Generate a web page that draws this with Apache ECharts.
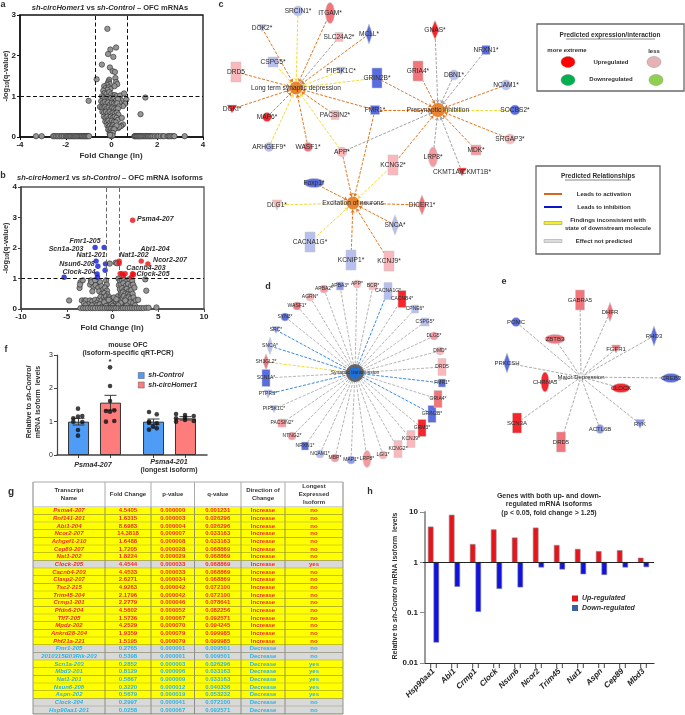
<!DOCTYPE html>
<html><head><meta charset="utf-8">
<style>html,body{margin:0;padding:0;background:#fff}#c{width:685px;height:715px}</style>
<script src="https://cdn.jsdelivr.net/npm/echarts@6/dist/echarts.min.js"></script>
</head><body><div id="c"></div>
<script>
/* ---------- panel a : volcano, mRNAs ---------- */
const aPoints=[[-.18,2.66],[.2,2.2],[-.05,2.15],[-.15,2.04],[.08,1.97],[-.42,1.78],[-.07,1.71],[.05,1.62],[.15,1.6],[.17,1.45],[-.65,1.42],[.2,1.35],[.25,1.3],[.13,1.25],
[-.1,1.41],[-.13,1.36],[-.16,1.32],[-.08,1.3],[-.2,1.28],[-.32,1.25],[-.26,1.2],[-.12,1.22],[-.05,1.18],[-.18,1.16],[-.36,1.14],[-.3,1.08],[-.22,1.06],[-.1,1.1],[-.02,1.05],[.08,1.02],[.15,1.03],[.22,1.0],[.38,1.02],[.55,1.07],[.65,.92],[.6,.82],[.5,.76],[.42,.9],[.35,.85],
[-.42,1.0],[-.35,.97],[-.27,.95],[-.18,.98],[-.1,.93],[-.03,.95],[.05,.92],[.13,.95],[.2,.9],[.28,.93],
[-.45,.88],[-.38,.84],[-.3,.86],[-.22,.82],[-.14,.85],[-.06,.8],[.02,.84],[.1,.82],[.18,.8],[.25,.83],[.32,.75],
[-.5,.74],[-.42,.72],[-.35,.7],[-.27,.74],[-.2,.7],[-.12,.72],[-.04,.68],[.04,.72],[.12,.7],[.2,.68],[.28,.7],
[-.4,.62],[-.32,.6],[-.24,.62],[-.16,.58],[-.08,.62],[0,.58],[.08,.6],[.16,.58],[.24,.6],[.3,.55],
[-.33,.5],[-.26,.47],[-.18,.5],[-.1,.46],[-.02,.5],[.06,.47],[.14,.5],[.22,.47],[.28,.42],[.45,.47],
[-.27,.38],[-.2,.36],[-.13,.4],[-.06,.35],[.02,.4],[.1,.37],[.18,.36],[.5,.31],[.42,.27],[.3,.22],[.34,.25],
[-.18,.28],[-.12,.25],[-.06,.28],[.02,.26],[.08,.29],[.15,.25],[.22,.28],
[-.14,.18],[-.08,.15],[-.02,.2],[.05,.17],[.12,.19],
[-.08,.08],[-.03,.1],[.02,.07],[.06,.1],[-.04,.03],[.01,.02],[.04,.04],[-.06,.05],
[1.48,.97],[1.27,.56],[-1,.89]];
const aZeroRowX=[-3.3,-3.05,-2.55,-2.5,-2.42,-2.35,-2.28,-2.2,-2.15,-2.08,-2,-1.95,-1.9,-1.85,-1.8,-1.76,-1.7,-1.65,-1.6,-1.56,-1.5,-1.45,-1.4,-1.35,-1.3,-1.27,-1.22,-1.18,-1.14,-1.1,-1.06,-1.02,-.98,
1,1.03,1.06,1.1,1.14,1.18,1.22,1.26,1.3,1.35,1.4,1.45,1.5,1.55,1.6,1.65,1.7,1.75,1.82,1.9,2,2.05,2.15,2.25,2.3,2.45,2.5,2.55,2.62,2.7,2.75,3.2];
const aZeroRowY=.02;

/* ---------- panel b : volcano, isoforms ---------- */
const bRed=[[2.2,2.91],[.73,1.57],[.73,1.49],[3.14,1.57],[3.87,1.48],[.84,1.16],[1.02,1.16],[1.39,1.16],[1.2,1.1],[2.1,1.05],[2.19,1.16],[2.3,1.13]];
const bBlue=[[-1.9,2.02],[-.91,2.02],[-1.79,1.57],[-1.6,1.4],[-.77,1.48],[-.8,1.27],[-1.68,1.15],[-1.64,1.04],[-5.29,1.04]];
const bGray=[[-.3,1.49],[.35,1.52],[.5,1.5],[-.7,.94],[-.62,.8],[-3.5,.88],[-3.25,.94],[-3.6,.69],[-3.55,.8],[-2.37,.94],[-2.45,.8],[-2.08,.72],[-2.2,.58],[-1.7,.83],[-1.35,.88],[-2.3,.88],[-1.9,.94],[-1.85,.78],[-1.55,.7],[-1.2,.75],[-1.45,.58],[-1,.65],[-.8,.7],[-.6,.6],[-1.15,.5],[-.9,.52],[-.55,.48],
[-4.74,.28],[-3.35,.28],[-3.05,.28],[-2.9,.28],[-2.45,.28],[-2.2,.25],[-3.1,.18],[-2.65,.15],[-2.95,.12],[-1.9,.3],[-1.65,.22],[-2,.15],[-1.45,.33],[-1.7,.12],[-2.25,.12],[-1.3,.4],[-1.2,.28],[-1.05,.18],[-1.4,.15],[-.95,.38],[-.8,.3],[-.7,.42],
[-.65,.2],[-.55,.32],[-.45,.12],[-.4,.25],[-.3,.38],[-.25,.15],[-.15,.22],[-.1,.08],[0,.18],[.05,.3],[.1,.1],[.2,.22],[.3,.05],[.35,.35],[.4,.15],[.5,.25],[.55,.08],[.6,.42],[.7,.18],[.8,.3],[.85,.1],[.95,.45],[1.05,.22],[1.1,.35],[1.2,.12],[-.85,.1],[-.6,.06],[-.35,.05],[-.2,.32],[-.05,.26],[.15,.38],[.25,.13],[.45,.05],[.65,.27],[.75,.08],[1,.08],[-1.15,.08],[-.75,.16],[-.5,.2],[-.25,.26],[.1,.2],[.3,.17],[.55,.16],[.9,.2],[-.9,.22],[-.55,.12],[-.12,.15],[.18,.07],[.42,.32],[.62,.12],[-.42,.3],[-.7,.1],[.02,.1],
[.65,1],[.8,.92],[1,.95],[1.25,.98],[1.5,.9],[1.85,.98],[2.15,.92],[.7,.78],[.95,.8],[1.2,.84],[1.45,.76],[1.7,.82],[2,.75],[2.25,.8],[.8,.65],[1.05,.68],[1.3,.62],[1.55,.66],[1.8,.58],[2.05,.62],[2.4,.7],[.9,.52],[1.15,.55],[1.4,.5],[1.65,.48],[1.9,.46],[2.2,.5],[1.25,.42],[1.5,.36],[1.75,.38],[2,.34],[2.3,.38],[1.45,.24],[1.7,.2],[1.95,.22],[2.25,.2],[2.55,.28],[2.8,.3],[2.45,.12],[1.55,.12],[3.58,.97],[3.69,.6],[1.4,.28],
[-3.5,.03],[-3.2,.03],[-2.95,.03],[-2.7,.03],[-2.4,.03],[-2.15,.03],[-1.9,.03],[-1.6,.03],[-1.35,.03],[-1.1,.03],[-.85,.03],[-.6,.03],[-.4,.03],[-.2,.03],[0,.03],[.2,.03],[.4,.03],[.65,.03],[.9,.03],[1.15,.03],[1.4,.03],[1.65,.03],[1.9,.03],[2.15,.03],[2.4,.03],[2.65,.03],[2.9,.03],[3.15,.03],[3.4,.03],[3.7,.04],[3.95,.04],[4.8,.05]];
const bLabels=[['Psma4-207',137,219,'left'],['Fmr1-205',85,241,'center'],['Scn1a-203',66,249,'center'],['Abi1-204',155,249,'center'],['Nat1-201',91,255,'center'],['Nat1-202',134,255,'center'],['Ncor2-207',170,260,'center'],['Nsun6-208',77,264,'center'],['Cacnb4-203',146,268,'center'],['Clock-204',79,272,'center'],['Clock-205',153,274,'center']];

/* ---------- panel f : qRT-PCR ---------- */
const fCategories=['Psma4-207','Psma4-201'];
const fControlMeans=[1.0,1.0];
const fHomerMeans=[1.57,1.1];
const fControlSem=[.1,.08];
const fHomerSem=[.22,.05];
const fDots=[[.28,1.39],[.217,1.1],[.28,1.15],[.337,1.17],[.217,1.0],[.337,.99],[.28,.75],[.28,.58],
[.707,2.63],[.707,2.07],[.707,1.62],[.653,1.32],[.764,1.34],[.707,1.3],[.653,1.0],[.764,1.02],
[1.227,1.29],[1.33,1.22],[1.227,1.0],[1.33,.95],[1.227,.76],[1.33,.8],[1.28,.85],[1.227,.97],
[1.587,1.23],[1.587,1.0],[1.707,1.2],[1.823,1.17],[1.587,1.1],[1.707,1.05],[1.823,1.02],[1.707,1.12]];

/* ---------- panel g : table ---------- */
const gHeader=['Transcript\nName','Fold Change','p-value','q-value','Direction of\nChange','Longest\nExpressed\nIsoform'];
const gNames=['Psma4-207','Rnf141-201','Abi1-204','Ncor2-207','Arhgef1-210','Cep89-207','Nat1-202','Clock-205','Cacnb4-203','Clasp2-207','Tsc2-215','Trim45-204','Crmp1-201','Pfdn6-204','Tlf7-205','Mpdz-202','Ankrd28-204','Phf21a-221','Fmr1-205','2010315B03Rik-203','Scn1a-203','Mbd3-201','Nat1-201','Nsun6-208','Aspn-202','Clock-204','Hsp90aa1-201'];
const gFold=['4.5405','1.6315','8.6983','14.3818','1.6488','1.7205','1.8224','4.4544','4.4533','2.6271','4.9263','2.1796','2.2779','4.5602','1.5736','4.2529','1.9359','1.5195','0.2765','0.5398','0.2852','0.8129','0.5867','0.3220','0.5679','0.2997','0.0258'];
const gP=['0.000000','0.000003','0.000004','0.000007','0.000008','0.000028','0.000029','0.000033','0.000033','0.000034','0.000042','0.000042','0.000046','0.000052','0.000067','0.000070','0.000079','0.000079','0.000001','0.000001','0.000003','0.000006','0.000009','0.000012','0.000019','0.000041','0.000067'];
const gQ=['0.001231','0.026296','0.026296','0.033163','0.033163','0.068869','0.068869','0.068869','0.068869','0.068869','0.072100','0.072100','0.078641','0.082256','0.092571','0.094245','0.099985','0.099985','0.009501','0.009501','0.026296','0.033163','0.033163','0.040336','0.053232','0.072100','0.092571'];
const gIncreaseCount=18;
const gLongest=['no','no','no','no','no','no','no','yes','no','no','no','no','no','no','no','no','no','no','no','no','yes','yes','yes','yes','yes','no','no'];

/* ---------- panel h : log bars ---------- */
const hGenes=['Hsp90aa1','Abi1','Crmp1','Clock','Nsun6','Ncor2','Trim45','Nat1','Aspn','Cep89','Mbd3'];
const hUp=[5.06,8.6983,2.2779,4.4544,3.07,4.83,2.1796,1.8224,1.65,1.7205,1.22];
const hDown=[.0258,.33,.105,.2997,.322,.8,.73,.5867,.5679,.8,.8129];

/* ---------- networks c, d, e ---------- */
const TONE={lb:'#b7bfee',mb:'#8e9be8',b:'#5a6dde',lp:'#fbb8bc',mp:'#f79aa0',p:'#f2757c',r:'#f5262c',hub:'#ea8430'};
const cHubs=['Long term synaptic depression','Presynaptic inhibition','Excitation of neurons'];
const cNames=['SRCIN1*','ITGAM*','DOK2*','SLC24A2*','MCLL*','GNAS*','NRXN1*','CSPG5*','DRD5','PIP5K1C*','GRIN2B*','GRIA4*','DBN1*','NCAM1*','DGKI*','MAP6*','PACSIN2*','FMR1*','SOCBS2*','SRGAP3*','ARHGEF9*','WASF1*','APP*','KCNG2*','LRP8*','MDK*','CKMT1A/CKMT1B*','Foxp1*','DLG1*','DICER1*','SNCA*','CACNA1G*','KCNIP1*','KCNJ9*'];
const cTones=['lb','p','lb','lp','b','r','b','lb','lp','lb','b','p','lb','lb','r','r','lp','b','b','lp','lb','p','lp','lp','mp','mp','r','b','lp','p','lb','lb','lb','lp'];
const cLinks={
 'Long term synaptic depression':{o:['ITGAM*','DOK2*','MCLL*','DRD5','DGKI*','MAP6*','PACSIN2*','FMR1*','WASF1*'],y:['SRCIN1*','CSPG5*','PIP5K1C*','GRIN2B*','ARHGEF9*','APP*'],g:['SLC24A2*']},
 'Presynaptic inhibition':{o:['GRIA4*','NCAM1*','GRIN2B*','FMR1*','SRGAP3*','KCNG2*','MDK*'],y:['SOCBS2*'],g:['GNAS*','NRXN1*','DBN1*','APP*','LRP8*','CKMT1A/CKMT1B*']},
 'Excitation of neurons':{o:['Foxp1*','APP*','FMR1*','DICER1*','SNCA*','KCNIP1*','KCNJ9*'],y:['KCNG2*','DLG1*','CACNA1G*'],g:[]}
};
const dHub='Synaptic transmission';
const dNames=['BCR*','APP*','APBA3*','APBA2*','AGRN*','WASF1*','SYN3*','SRC*','SNCA*','SH3GL2*','SCN1A*','PTPRS*','PIP5K1C*','PACSIN2*','NTNG2*','NRXN1*','NCAM1*','MBP*','MAP1*','LRP8*','LGI1*','KCNG2*','KCNJ9*','GRM3*','GRIN2B*','GRIA4*','FMR1*','DRD5','DMD*','DLG5*','CSPG5*','CPNE6*','CACNB4*','CACNA1G*'];
const dTones=['lp','lp','mb','mp','lp','p','b','mb','lb','p','b','lb','lb','mp','mp','b','lb','mp','mb','mp','lp','lp','lp','r','b','p','b','lp','lp','mp','lb','lb','r','lb'];
const dBlue=['CACNA1G*','SRC*','SNCA*','PTPRS*','FMR1*','GRIN2B*'];
const dYellow=['SH3GL2*'];
const eHub='Major Depression';
const eNames=['GABRA5','DHFR','RHO3','FGFR1','POMC','ZBTB3','PRKCSH','CHRNA5','CLOCK','CREB3','RYK','ACTL6B','DRD5','SCN3A'];
const eTones=['p','p','b','p','b','p','b','r','r','b','mb','mb','p','r'];

/* layout of the networks on the page, kept apart from the data: shape, cx, cy, w, h */
const cLayout={'Long term synaptic depression':['C',296,88,13,13],'Presynaptic inhibition':['C',438,110,14,14],'Excitation of neurons':['C',353,203,13,13],
'SRCIN1*':['C',298,11,10,10],'ITGAM*':['C',330,13,9,21],'DOK2*':['V',262,28,9,7],'SLC24A2*':['R',339,37,8,9],'MCLL*':['D',369,34,7,20],'GNAS*':['D',435,30,8,19],'NRXN1*':['R',486,50,8,9],'CSPG5*':['R',273,62,10,10],'DRD5':['R',236,72,10,20],'PIP5K1C*':['V',341,71,9,8],'GRIN2B*':['R',377,78,10,20],'GRIA4*':['R',418,71,10,20],'DBN1*':['C',454,75,10,10],'NCAM1*':['C',506,85,10,10],'DGKI*':['V',232,109,10,8],'MAP6*':['C',267,117,9,9],'PACSIN2*':['R',335,115,8,9],'FMR1*':['R',375,110,9,9],'SOCBS2*':['C',515,110,10,10],'SRGAP3*':['C',510,139,10,10],'ARHGEF9*':['C',269,147,9,9],'WASF1*':['C',308,147,9,9],'APP*':['C',342,152,10,10],'KCNG2*':['R',393,165,10,20],'LRP8*':['C',433,157,9,20],'MDK*':['R',476,150,10,10],'CKMT1A/CKMT1B*':['V',462,172,9,8],'Foxp1*':['C',314,183,20,9],'DLG1*':['V',277,205,10,10],'DICER1*':['D',422,205,8,20],'SNCA*':['D',395,225,8,20],'CACNA1G*':['R',310,242,10,20],'KCNIP1*':['R',351,260,10,20],'KCNJ9*':['R',389,261,10,20]};
const dLayout={'Synaptic transmission':['C',355,373,15,15],'BCR*':['R',373,286,8,7],'APP*':['C',357,284,8,8],'APBA3*':['R',340,286,7,8],'APBA2*':['C',324,289,8,8],'AGRN*':['C',310,297,8,8],'WASF1*':['C',297,306,8,8],'SYN3*':['C',285,317,8,8],'SRC*':['V',276,330,8,7],'SNCA*':['D',270,346,6,17],'SH3GL2*':['D',266,362,6,16],'SCN1A*':['R',266,378,8,17],'PTPRS*':['V',268,394,8,8],'PIP5K1C*':['V',274,409,8,7],'PACSIN2*':['R',282,423,8,8],'NTNG2*':['C',292,436,8,8],'NRXN1*':['R',305,446,7,8],'NCAM1*':['C',320,454,8,8],'MBP*':['C',335,458,8,8],'MAP1*':['C',351,460,8,8],'LRP8*':['C',367,459,8,17],'LGI1*':['C',383,455,8,8],'KCNG2*':['R',398,449,8,17],'KCNJ9*':['R',411,439,8,17],'GRM3*':['R',422,428,8,17],'GRIN2B*':['R',432,414,8,17],'GRIA4*':['R',438,399,8,17],'FMR1*':['R',442,383,7,8],'DRD5':['R',442,367,8,17],'DMD*':['C',440,351,8,8],'DLG5*':['C',434,336,8,8],'CSPG5*':['R',425,322,8,8],'CPNE6*':['R',415,309,7,8],'CACNB4*':['R',402,299,8,17],'CACNA1G*':['R',388,291,8,17]};
const eLayout={'Major Depression':['R',581,377,6,6],'GABRA5':['R',580,300,9,20],'DHFR':['D',610,312,7,19],'RHO3':['D',654,336,7,20],'FGFR1':['V',616,349,9,8],'POMC':['C',516,322,9,9],'ZBTB3':['C',555,339,20,9],'PRKCSH':['D',507,363,7,20],'CHRNA5':['C',545,382,8,20],'CLOCK':['C',621,388,18,9],'CREB3':['C',671,378,18,9],'RYK':['V',640,424,10,9],'ACTL6B':['C',600,429,8,9],'DRD5':['R',561,442,9,20],'SCN3A':['R',517,423,9,20]};

const FONT='"Liberation Sans",Arial,sans-serif';
const TRI='path://M0,0L10,0L5,10Z';
const SHAPE={C:'circle',R:'rect',D:'diamond',V:TRI};
const LINE={o:'#e4761f',y:'#f2d93c',g:'#a2a2a2',b:'#3a8ae6'};
function nodeItem(name,color,lay,fs){const l=lay[name];return{name:name,value:[l[1],l[2]],symbol:SHAPE[l[0]],symbolSize:[l[3],l[4]],
 itemStyle:{color:color,borderColor:'#c8c8c8',borderWidth:.5},
 label:{show:true,position:'inside',formatter:name,fontFamily:FONT,fontSize:fs,color:'#2a2a2a'}};}
function link(s,t,k,w){return{source:s,target:t,lineStyle:{color:LINE[k],type:[3,1.5],width:w||1,opacity:1,curveness:0}};}

const cData=cNames.map((n,i)=>nodeItem(n,TONE[cTones[i]],cLayout,6.6)).concat(cHubs.map(n=>{const it=nodeItem(n,TONE.hub,cLayout,6.6);it.itemStyle.borderWidth=0;return it;}));
const cEdges=[];Object.keys(cLinks).forEach(h=>['g','y','o'].forEach(k=>cLinks[h][k].forEach(s=>cEdges.push(link(s,h,k)))));
const dHubItem=nodeItem(dHub,'#1f6fd6',dLayout,5);dHubItem.itemStyle={color:'#1f6fd6',borderColor:'#666',borderWidth:3};
const dData=dNames.map((n,i)=>nodeItem(n,TONE[dTones[i]],dLayout,5)).concat([dHubItem]);
const dEdges=dNames.map(n=>link(n,dHub,dBlue.includes(n)?'b':dYellow.includes(n)?'y':'g',dBlue.includes(n)||dYellow.includes(n)?1:.8));
const eHubItem=nodeItem(eHub,'#f4f4f4',eLayout,6);
const eData=eNames.map((n,i)=>nodeItem(n,TONE[eTones[i]],eLayout,6)).concat([eHubItem]);
const eEdges=eNames.map(n=>link(n,eHub,'g',.9));

function graphSeries(data,links,arrow){return{type:'graph',coordinateSystem:'cartesian2d',xAxisIndex:5,yAxisIndex:4,layout:'none',roam:false,silent:true,z:3,
 edgeSymbol:arrow?['none','arrow']:['none','none'],edgeSymbolSize:[0,arrow],data:data,links:links,
 lineStyle:{opacity:1},emphasis:{disabled:true}};}

/* ---- text helpers ---- */
function T(text,x,y,o){o=o||{};return{type:'text',x:x,y:y,rotation:o.rot||0,silent:true,z:20,style:{text:text,fontFamily:FONT,fontSize:o.fs||7,fontWeight:o.w||'bold',fontStyle:o.it?'italic':'normal',fill:o.c||'#2e2e2e',align:o.a||'center',verticalAlign:'middle',lineHeight:o.lh,rich:o.rich}};}
const ital=fs=>({i:{fontFamily:FONT,fontStyle:'italic',fontWeight:'bold',fontSize:fs,fill:'#2e2e2e',color:'#2e2e2e'},s:{fontFamily:FONT,fontWeight:'bold',fontSize:fs-2,color:'#2e2e2e',padding:[3,0,0,0]}});
function Line(x1,y1,x2,y2,c,w){return{type:'line',silent:true,z:20,shape:{x1,y1,x2,y2},style:{stroke:c,lineWidth:w}};}
function Box(x,y,w,h){return{type:'rect',silent:true,z:15,shape:{x,y,width:w,height:h},style:{fill:'#fff',stroke:'#6a6a6a',lineWidth:1.3}};}
function Ell(cx,cy,c){return{type:'ellipse',silent:true,z:20,shape:{cx,cy,rx:7,ry:5.5},style:{fill:c,stroke:'#8a8a8a',lineWidth:.4}};}

const graphics=[
 T('a',3,5,{fs:9}),T('b',3,176,{fs:9}),T('c',221,5,{fs:9}),T('d',268,287,{fs:9}),T('e',504,282,{fs:9}),T('f',6,350,{fs:9}),T('g',11,492,{fs:10}),T('h',370,492,{fs:9}),
 T('{i|sh-circHomer1} vs {i|sh-Control} – OFC mRNAs',110,8,{fs:7.5,rich:ital(7.5)}),
 T('Fold Change (ln)',111,156,{fs:8}),
 T('-log{s|10}(q-value)',6,76,{fs:7.5,rot:Math.PI/2,rich:ital(7.5)}),
 T('{i|sh-circHomer1} vs {i|sh-Control} – OFC mRNA isoforms',110,178,{fs:7.5,rich:ital(7.5)}),
 T('Fold Change (ln)',112,328,{fs:8}),
 T('-log{s|10}(q-value)',6,248,{fs:7.5,rot:Math.PI/2,rich:ital(7.5)}),
 ...bLabels.map(l=>T(l[0],l[1],l[2],{fs:7,it:true,a:l[3]})),
 T('mouse OFC',128,345,{fs:7}),T('(Isoform-specific qRT-PCR)',128,353,{fs:7}),T('*',110,362,{fs:8}),
 T('Relative to {i|sh-Control}',29,402,{fs:7,rot:Math.PI/2,rich:ital(7)}),T('mRNA isoform  levels',38,402,{fs:7,rot:Math.PI/2}),
 T(fCategories[0],93,465,{fs:7.2,it:true}),T(fCategories[1],169,462,{fs:7.2,it:true}),T('(longest isoform)',169,470,{fs:7}),
 T('Genes with both up- and down-',549,496,{fs:7}),T('regulated mRNA isoforms',549,504,{fs:7}),T('(p < 0.05, fold change > 1.25)',549,513,{fs:7}),
 T('Relative to {i|sh-Control} mRNA isoform  levels',395,586,{fs:7,rot:Math.PI/2,rich:ital(7)}),
 Box(537,24,147,67),
 T('Predicted expression/interaction',610,35,{fs:6.5}),Line(566,39,655,39,'#333',.6),
 T('more extreme',567,50,{fs:6}),T('less',654,51,{fs:6}),
 Ell(568,62,'#ff0000'),Ell(654,62,'#e5b3b3'),Ell(568,80,'#00b050'),Ell(656,80,'#8fd050'),
 T('Upregulated',611,62,{fs:6}),T('Downregulated',611,79,{fs:6}),
 Box(536,166,124,88),
 T('Predicted Relationships',598,176,{fs:6.5}),Line(565,180,631,180,'#333',.6),
 Line(544,194,562,194,'#d8661c',2),T('Leads to activation',604,194,{fs:6}),
 Line(544,207,562,207,'#0a14c8',2),T('Leads to inhibition',604,207,{fs:6}),
 {type:'rect',silent:true,z:20,shape:{x:544,y:221.5,width:18,height:3},style:{fill:'#f5ee20',stroke:'#8a8a6a',lineWidth:.5}},
 T('Findings inconsistent with',608,220,{fs:6}),T('state of downstream molecule',608,228,{fs:6}),
 {type:'rect',silent:true,z:20,shape:{x:544,y:239.5,width:18,height:3},style:{fill:'#dcdcdc',stroke:'#999',lineWidth:.5}},
 T('Effect not predicted',604,241,{fs:6})
];

/* ---- axes helper ---- */
const axLab={fontFamily:FONT,fontWeight:'bold',fontSize:8,color:'#222'};
function valAxis(gi,min,max,iv,color,extra){return Object.assign({type:'value',gridIndex:gi,min,max,interval:iv,splitLine:{show:false},
 axisLine:{show:true,onZero:false,lineStyle:{color,width:1.5}},axisTick:{show:true,length:3,lineStyle:{color,width:1}},axisLabel:Object.assign({margin:4},axLab)},extra||{});}
function dashes(list){return{silent:true,symbol:'none',animation:false,label:{show:false},emphasis:{disabled:true},data:list,lineStyle:{type:[4,2.5],color:'#111',width:1}};}

const dotStyle={color:'#969696',borderColor:'#2a2a2a',borderWidth:.6,opacity:1};

/* ---- custom renderers ---- */
function errorRender(p,api){const c=api.coord([api.value(0),api.value(1)]),t=api.coord([api.value(0),api.value(1)+api.value(2)]),b=api.coord([api.value(0),api.value(1)-api.value(2)]);
 const st={stroke:'#3a3a3a',lineWidth:1};
 return{type:'group',children:[{type:'line',shape:{x1:c[0],y1:t[1],x2:c[0],y2:b[1]},style:st},{type:'line',shape:{x1:c[0]-6,y1:t[1],x2:c[0]+6,y2:t[1]},style:st},{type:'line',shape:{x1:c[0]-6,y1:b[1],x2:c[0]+6,y2:b[1]},style:st}]};}
function tickRender(p,api){const c=api.coord([api.value(0),0]);return{type:'line',shape:{x1:c[0],y1:455,x2:c[0],y2:458},style:{stroke:'#3a3a3a',lineWidth:1}};}
function logBar(off,fill){return function(p,api){const c=api.coord([api.value(0),api.value(1)]),b=api.coord([api.value(0),1]),x=c[0]+off;
 return{type:'group',children:[{type:'rect',shape:{x:x-2.5,y:Math.min(c[1],b[1]),width:5,height:Math.abs(c[1]-b[1])},style:{fill:fill,stroke:'#8a8a8a',lineWidth:.6}},
 {type:'line',shape:{x1:x,y1:663,x2:x,y2:668},style:{stroke:'#333',lineWidth:.9}}]};};}

const gCols=[33,105,151,194.5,241,285,343];
function rowValues(i){const inc=i<gIncreaseCount;return[gNames[i],gFold[i],gP[i],gQ[i],inc?'Increase':'Decrease',gLongest[i]];}
function tableRender(p,api){const r=api.value(0);const ch=[];
 const top=api.coord([33,r])[1],bot=api.coord([33,r+1])[1];
 const vals=rowValues(r),inc=r<gIncreaseCount,yellow=inc===(gLongest[r]==='no');
 ch.push({type:'rect',shape:{x:gCols[0],y:top,width:gCols[6]-gCols[0],height:bot-top},style:{fill:yellow?'#ffff00':'#d9d9d9'}});
 ch.push({type:'line',shape:{x1:gCols[0],y1:bot,x2:gCols[6],y2:bot},style:{stroke:'#5a5a2a',lineWidth:.7}});
 vals.forEach((v,j)=>{ch.push({type:'text',style:{text:v,x:(gCols[j]+gCols[j+1])/2,y:(top+bot)/2,align:'center',verticalAlign:'middle',fontFamily:FONT,fontWeight:'bold',fontSize:6,fontStyle:j===0?'italic':'normal',fill:inc?'#f52a1e':'#2fb0e0'}});});
 gCols.forEach(x=>ch.push({type:'line',shape:{x1:x,y1:top,x2:x,y2:bot},style:{stroke:'#7a7a7a',lineWidth:.8}}));
 return{type:'group',children:ch};}
function headerRender(p,api){const ch=[];const top=api.coord([33,-3.26])[1],bot=api.coord([33,0])[1];
 ch.push({type:'rect',shape:{x:33,y:top,width:310,height:bot-top},style:{fill:'#fff',stroke:'#aaa',lineWidth:1}});
 gCols.forEach(x=>ch.push({type:'line',shape:{x1:x,y1:top,x2:x,y2:bot},style:{stroke:'#aaa',lineWidth:1}}));
 gHeader.forEach((v,j)=>ch.push({type:'text',style:{text:v,x:(gCols[j]+gCols[j+1])/2,y:(top+bot)/2,align:'center',verticalAlign:'middle',lineHeight:7.7,fontFamily:FONT,fontWeight:'bold',fontSize:6,fill:'#333'}}));
 return{type:'group',children:ch};}

const legendText={fontFamily:FONT,fontStyle:'italic',fontWeight:'bold',fontSize:7,color:'#2e2e2e',padding:[0,0,0,-1]};
const option={
 animation:false,backgroundColor:'#fff',tooltip:{show:false},
 legend:[
  {data:[{name:'sh-Control',icon:'rect',itemStyle:{color:'#4f9cf7',borderColor:'#555',borderWidth:.5}},{name:'sh-circHomer1',icon:'rect',itemStyle:{color:'#ff7c7c',borderColor:'#555',borderWidth:.5}}],left:138,top:372,orient:'vertical',itemWidth:6,itemHeight:6,itemGap:2.5,padding:0,selectedMode:false,textStyle:legendText},
  {data:[{name:'Up-regulated',icon:'rect',itemStyle:{color:'#e8141c'}},{name:'Down-regulated',icon:'rect',itemStyle:{color:'#3b5fa0'}}],left:572,top:595,orient:'vertical',itemWidth:6,itemHeight:6,itemGap:2.5,padding:0,selectedMode:false,textStyle:legendText}
 ],
 graphic:{elements:graphics},
 grid:[
  {left:20,top:15,width:183,height:122,show:true,borderColor:'#111',borderWidth:1.3,backgroundColor:'transparent'},
  {left:21,top:187,width:183,height:122,show:true,borderColor:'#555',borderWidth:1.3,backgroundColor:'transparent'},
  {left:57,top:355,width:150,height:100},
  {left:423,top:512,width:231,height:151},
  {left:0,top:0,width:685,height:715},
  {left:0,top:482,width:685,height:232}
 ],
 xAxis:[
  valAxis(0,-4,4,2,'#111'),
  valAxis(1,-10,10,5,'#444'),
  {type:'category',gridIndex:2,data:fCategories,axisLine:{lineStyle:{color:'#444',width:1.5}},axisTick:{show:false},axisLabel:{show:false}},
  {type:'value',gridIndex:2,min:0,max:2,show:false},
  {type:'category',gridIndex:3,data:hGenes,axisLine:{onZero:false,lineStyle:{color:'#333',width:1.2}},axisTick:{show:false},axisLabel:{rotate:45,margin:7,interval:0,fontFamily:FONT,fontWeight:'bold',fontStyle:'italic',fontSize:8,color:'#222'}},
  {type:'value',gridIndex:4,min:0,max:685,show:false},
  {type:'value',gridIndex:5,min:0,max:685,show:false}
 ],
 yAxis:[
  valAxis(0,0,3,1,'#111'),
  valAxis(1,0,4,1,'#444'),
  {type:'value',gridIndex:2,min:0,max:3,interval:1,splitLine:{show:false},axisLine:{show:true,lineStyle:{color:'#444',width:1.2}},axisTick:{show:true,length:3,lineStyle:{color:'#444'}},axisLabel:{margin:4,fontFamily:FONT,fontSize:7,color:'#222'}},
  {type:'log',gridIndex:3,min:.01,max:10,logBase:10,offset:-2,splitLine:{show:false},minorTick:{show:false},axisLine:{show:true,onZero:false,lineStyle:{color:'#9a9a9a',width:2}},axisTick:{show:true,inside:false,length:5,lineStyle:{color:'#8a8a8a',width:1}},axisLabel:{margin:7,fontFamily:FONT,fontWeight:'bold',fontSize:8,color:'#222',formatter:v=>String(+(+v).toPrecision(1))}},
  {type:'value',gridIndex:4,min:0,max:715,inverse:true,show:false},
  {type:'value',gridIndex:5,min:-3.26,max:27,inverse:true,show:false}
 ],
 series:[
  {type:'scatter',name:'a',xAxisIndex:0,yAxisIndex:0,symbolSize:5.4,clip:false,itemStyle:dotStyle,silent:true,
   data:aPoints.concat(aZeroRowX.map(x=>[x,aZeroRowY])),
   markLine:dashes([{yAxis:1},{xAxis:-.69},{xAxis:.69}])},
  {type:'scatter',name:'b gray',xAxisIndex:1,yAxisIndex:1,symbolSize:5.4,clip:false,itemStyle:dotStyle,silent:true,data:bGray,
   markLine:dashes([{yAxis:1},{xAxis:-.69,lineStyle:{color:'#666'}},{xAxis:.69,lineStyle:{color:'#666'}}])},
  {type:'scatter',name:'b up',xAxisIndex:1,yAxisIndex:1,symbolSize:5.4,itemStyle:{color:'#e90f14'},silent:true,data:bRed},
  {type:'scatter',name:'b down',xAxisIndex:1,yAxisIndex:1,symbolSize:5.4,itemStyle:{color:'#1018d8'},silent:true,data:bBlue},
  {type:'bar',name:'sh-Control',xAxisIndex:2,yAxisIndex:2,barWidth:21,barGap:'52%',data:fControlMeans,silent:true,itemStyle:{color:'#4f9cf7',borderColor:'#333',borderWidth:1}},
  {type:'bar',name:'sh-circHomer1',xAxisIndex:2,yAxisIndex:2,barWidth:21,barGap:'52%',data:fHomerMeans,silent:true,itemStyle:{color:'#ff7c7c',borderColor:'#333',borderWidth:1}},
  {type:'custom',name:'f errors',xAxisIndex:3,yAxisIndex:2,silent:true,z:4,renderItem:errorRender,encode:{x:0,y:1},
   data:[[.287,fControlMeans[0],fControlSem[0]],[.713,fHomerMeans[0],fHomerSem[0]],[1.287,fControlMeans[1],fControlSem[1]],[1.713,fHomerMeans[1],fHomerSem[1]]]},
  {type:'custom',name:'f ticks',xAxisIndex:3,yAxisIndex:2,silent:true,renderItem:tickRender,encode:{x:0,y:1},data:[[.287,0],[.713,0],[1.287,0],[1.713,0]]},
  {type:'scatter',name:'f dots',xAxisIndex:3,yAxisIndex:2,symbolSize:4.6,z:5,silent:true,itemStyle:{color:'#111'},data:fDots},
  {type:'custom',name:'Up-regulated',xAxisIndex:4,yAxisIndex:3,silent:true,z:3,itemStyle:{color:'#e8141c'},renderItem:logBar(-2.8,'#e8141c'),encode:{x:0,y:1},data:hUp.map((v,i)=>[i,v])},
  {type:'custom',name:'Down-regulated',xAxisIndex:4,yAxisIndex:3,silent:true,z:3,itemStyle:{color:'#3b5fa0'},renderItem:logBar(2.8,'#1212e0'),encode:{x:0,y:1},data:hDown.map((v,i)=>[i,v]),
   markLine:{silent:true,symbol:'none',z:6,label:{show:false},data:[{yAxis:1}],lineStyle:{type:'solid',color:'#222',width:1}}},
  graphSeries(cData,cEdges,3.5),
  graphSeries(dData,dEdges,0),
  graphSeries(eData,eEdges,0),
  {type:'custom',name:'g header',xAxisIndex:6,yAxisIndex:5,silent:true,renderItem:headerRender,encode:{x:0,y:1},data:[[33,-3]]},
  {type:'custom',name:'g rows',xAxisIndex:6,yAxisIndex:5,silent:true,renderItem:tableRender,encode:{y:0},data:gNames.map((n,i)=>[i,n])}
 ]
};
const chart=echarts.init(document.getElementById('c'));
chart.setOption(option);
</script></body></html>
